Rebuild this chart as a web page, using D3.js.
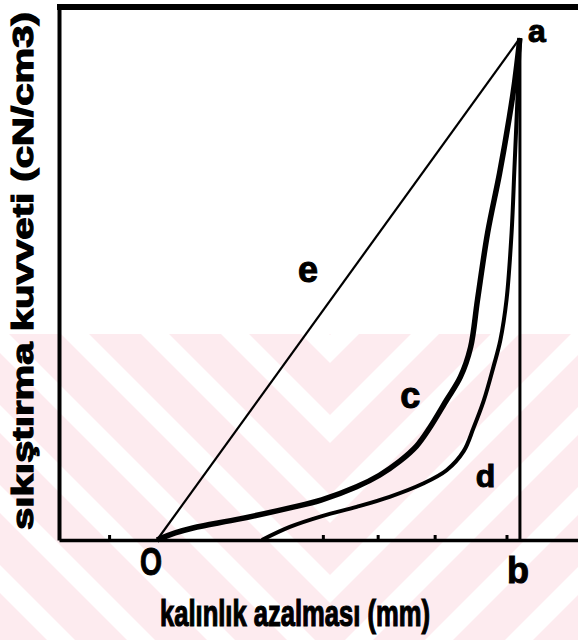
<!DOCTYPE html>
<html>
<head>
<meta charset="utf-8">
<script src="https://cdn.jsdelivr.net/npm/d3@7"></script>
<style>
  html, body { margin: 0; padding: 0; background: #fff; }
  svg { display: block; }
</style>
</head>
<body>
<script>
// Thickness reduction (O = 0, b = 10, arbitrary units) against compression force (a = 10).
const curveCx = [0, 0.50, 0.99, 2.28, 3.66, 4.54, 5.50, 6.13, 6.69, 7.15, 7.51, 7.98, 8.36, 8.64, 8.83, 9.11, 9.44, 9.71, 9.85, 10];
const curveCy = [0, 0.14, 0.24, 0.42, 0.64, 0.80, 1.06, 1.29, 1.57, 1.87, 2.23, 2.79, 3.25, 3.84, 4.78, 6.12, 7.31, 8.43, 9.10, 10];
const curveDx = [2.89, 3.66, 4.57, 5.50, 6.41, 7.32, 7.98, 8.45, 8.72, 9.00, 9.27, 9.46, 9.63, 9.77, 9.85, 9.93, 10];
const curveDy = [0, 0.26, 0.48, 0.66, 0.86, 1.12, 1.39, 1.77, 2.23, 2.77, 3.45, 3.98, 4.78, 6.12, 7.43, 8.76, 10];
const lineEx = [0, 10];
const lineEy = [0, 10];
const peakX = 10;     // point a / b
const peakY = 10;
const xTicks = [-1.32, 4.57, 6.08, 7.65, 9.63];
const xTitle = "kalınlık azalması (mm)";
const yTitle = "sıkıştırma kuvveti (cN/cm3)";

const W = 578, H = 640;
const svg = d3.select("body").append("svg").attr("width", W).attr("height", H);

const x = d3.scaleLinear().domain([-2.7, 11.6]).range([59, 578]);
const y = d3.scaleLinear().domain([0, 10.62]).range([540, 7]);

// faint pink chevron bands in the lower part of the sheet
const wm = svg.append("g");
const defs = svg.append("defs");
defs.append("clipPath").attr("id", "lw").append("polygon")
  .attr("points", "0,334 330,334 330,640 0,640");
defs.append("clipPath").attr("id", "rw").append("polygon")
  .attr("points", "330,334 578,334 578,640 330,640");
const pink = "#fdebef";
const period = 80, band = 52;
for (let c = -725; c < 500; c += period) {
  wm.append("polygon").attr("clip-path", "url(#lw)")
    .attr("points", `${c},0 ${c + band},0 ${c + band + 700},700 ${c + 700},700`)
    .attr("fill", pink);
}
for (let c = 660 - (-725) - band; c > 0; c -= period) {
  wm.append("polygon").attr("clip-path", "url(#rw)")
    .attr("points", `${c},0 ${c + band},0 ${c + band - 700},700 ${c - 700},700`)
    .attr("fill", pink);
}

// frame: top rule, left axis, bottom axis with inner ticks
svg.append("line")
  .attr("x1", x.range()[0] - 2).attr("x2", W)
  .attr("y1", y(y.domain()[1])).attr("y2", y(y.domain()[1]))
  .attr("stroke", "#000").attr("stroke-width", 6);

const yAxis = svg.append("g").attr("transform", `translate(${x.range()[0]},0)`)
  .call(d3.axisLeft(y).tickValues([]).tickSizeOuter(0));
yAxis.select(".domain").attr("stroke", "#000").attr("stroke-width", 4);

const xAxis = svg.append("g").attr("transform", `translate(0,${y(0)})`)
  .call(d3.axisBottom(x).tickValues(xTicks).tickSize(-5).tickSizeOuter(0).tickFormat(""));
xAxis.select(".domain").attr("stroke", "#000").attr("stroke-width", 3.5);
xAxis.selectAll(".tick line").attr("stroke", "#000").attr("stroke-width", 3);

// vertical line a-b
svg.append("line")
  .attr("x1", x(peakX)).attr("x2", x(peakX))
  .attr("y1", y(0)).attr("y2", y(peakY))
  .attr("stroke", "#000").attr("stroke-width", 3);

const line = d3.line().x(d => x(d[0])).y(d => y(d[1]));
const smooth = d3.line().x(d => x(d[0])).y(d => y(d[1])).curve(d3.curveCatmullRom.alpha(0.5));

svg.append("path").datum(d3.zip(lineEx, lineEy)).attr("d", line)
  .attr("fill", "none").attr("stroke", "#000").attr("stroke-width", 2.2);
svg.append("path").datum(d3.zip(curveCx, curveCy)).attr("d", smooth)
  .attr("fill", "none").attr("stroke", "#000").attr("stroke-width", 5.5).attr("stroke-linejoin", "round");
svg.append("path").datum(d3.zip(curveDx, curveDy)).attr("d", smooth)
  .attr("fill", "none").attr("stroke", "#000").attr("stroke-width", 4).attr("stroke-linejoin", "round");

// point and curve letters
const font = "'Liberation Sans', Arial, sans-serif";
function letter(t, px, py, size, len) {
  const el = svg.append("text").attr("x", px).attr("y", py)
    .attr("text-anchor", "middle").attr("font-family", font)
    .attr("font-weight", "bold").attr("font-size", size).attr("fill", "#000")
    .attr("stroke", "#000").attr("stroke-width", 1).text(t);
  if (len) el.attr("textLength", len).attr("lengthAdjust", "spacingAndGlyphs");
  return el;
}
letter("a", x(peakX) + 17, y(peakY) + 4, 32);
letter("b", x(peakX) - 2, y(0) + 43, 36);
letter("O", x(0) - 6, y(0) + 35, 38, 22);
letter("e", x(4.16), y(5.14), 36);
letter("c", x(6.98), y(2.64), 36);
letter("d", x(9.05), y(1.05), 32);

// axis titles
svg.append("text")
  .attr("x", 295).attr("y", 626)
  .attr("text-anchor", "middle").attr("font-family", font)
  .attr("font-weight", "bold").attr("font-size", 36)
  .attr("stroke", "#000").attr("stroke-width", 1.2)
  .attr("textLength", 270).attr("lengthAdjust", "spacingAndGlyphs")
  .text(xTitle);

svg.append("text")
  .attr("transform", "translate(33,271) rotate(-90)")
  .attr("text-anchor", "middle").attr("font-family", font)
  .attr("font-weight", "bold").attr("font-size", 30)
  .attr("stroke", "#000").attr("stroke-width", 1.2)
  .attr("textLength", 518).attr("lengthAdjust", "spacingAndGlyphs")
  .text(yTitle);
</script>
</body>
</html>
